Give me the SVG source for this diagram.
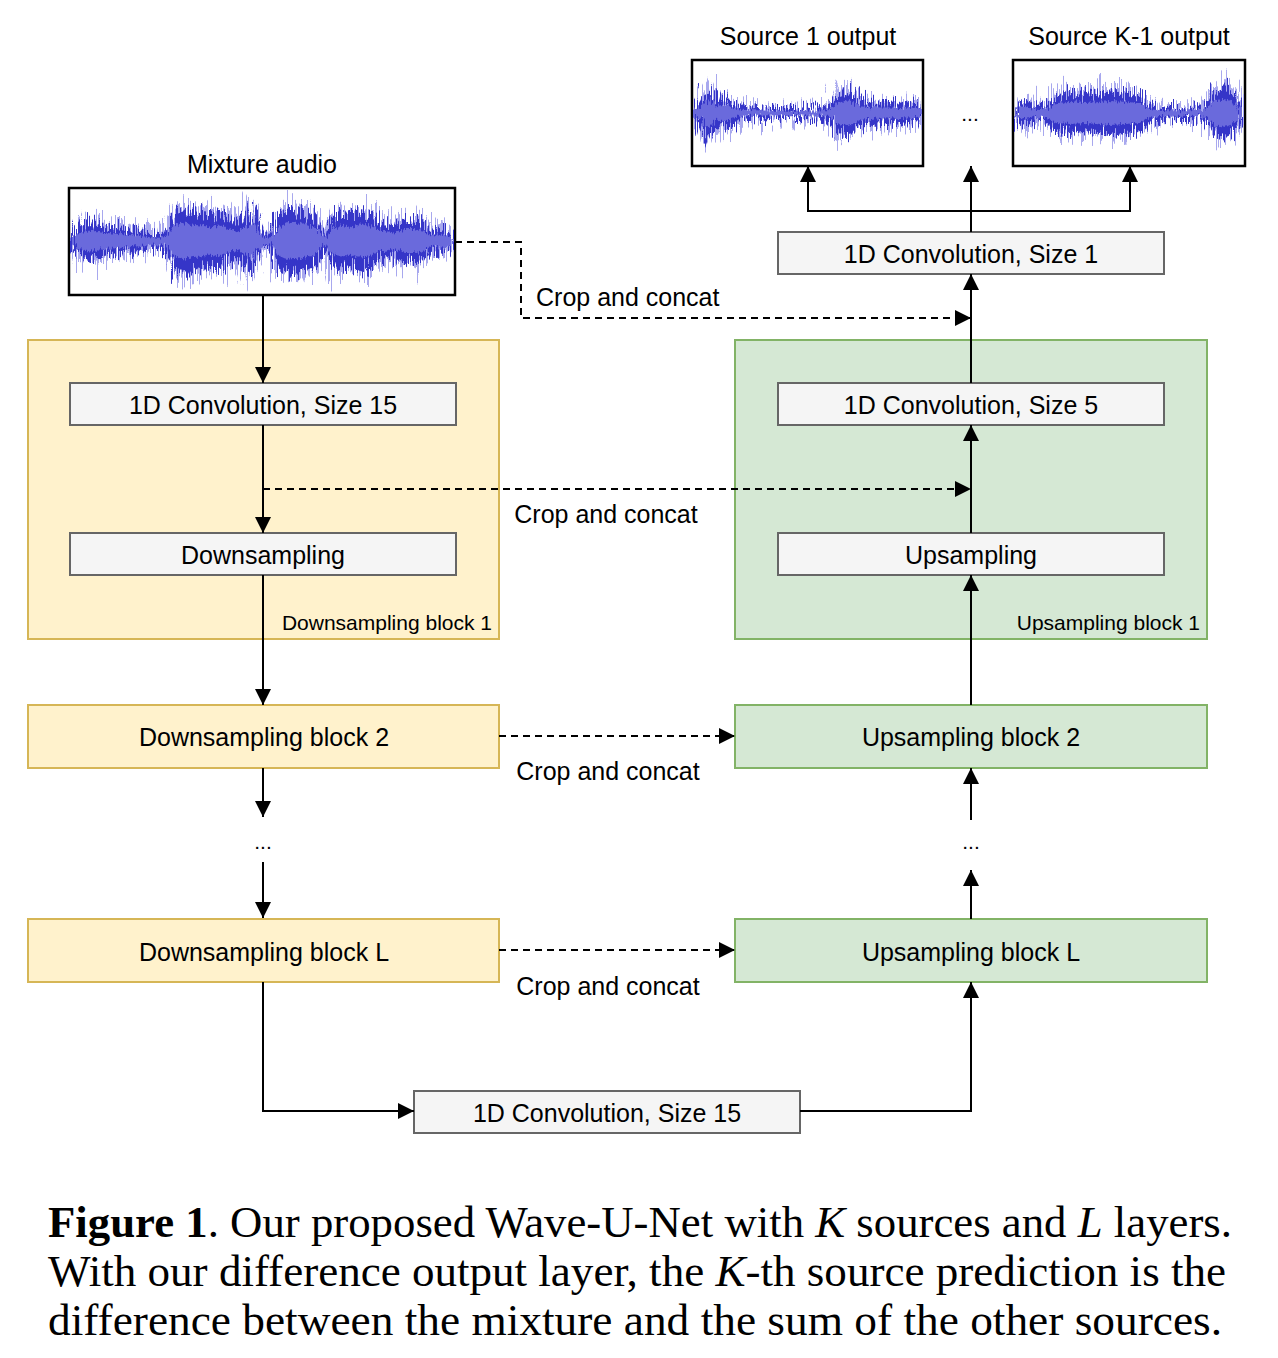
<svg xmlns="http://www.w3.org/2000/svg" xmlns:xlink="http://www.w3.org/1999/xlink" width="1278" height="1358" viewBox="0 0 1278 1358">
<style>
.t{font-family:"Liberation Sans",Arial,sans-serif;font-size:25px;fill:#000}
.s{font-family:"Liberation Sans",Arial,sans-serif;font-size:21px;fill:#000}
.cap{font-family:"Liberation Serif","Times New Roman",serif;font-size:44px;fill:#000}
.gray{fill:#f5f5f5;stroke:#666;stroke-width:2}
.yel{fill:#fff2cc;stroke:#d6b656;stroke-width:2}
.grn{fill:#d5e8d4;stroke:#82b366;stroke-width:2}
.wbox{fill:#fff;stroke:#000;stroke-width:2.5}
.ln{fill:none;stroke:#000;stroke-width:2}
.dsh{fill:none;stroke:#000;stroke-width:2;stroke-dasharray:7 5}
.wh{fill:#a8a8ee}
.wd{fill:#3434c8}
.wl{fill:#6a6adc}
</style>
<defs>
<marker id="ah" viewBox="0 0 16 16" refX="16" refY="8" markerWidth="16" markerHeight="16" markerUnits="userSpaceOnUse" orient="auto">
<path d="M0,0 L16,8 L0,16 z" fill="#000"/>
</marker>
<filter id="jag0" x="-2%" y="-80%" width="104%" height="260%">
<feTurbulence type="fractalNoise" baseFrequency="0.8 0.02" numOctaves="2" seed="2" result="n"/>
<feDisplacementMap in="SourceGraphic" in2="n" scale="48" xChannelSelector="B" yChannelSelector="G"/>
</filter>
<filter id="jag" x="-2%" y="-80%" width="104%" height="260%">
<feTurbulence type="fractalNoise" baseFrequency="0.9 0.03" numOctaves="2" seed="5" result="n"/>
<feDisplacementMap in="SourceGraphic" in2="n" scale="36" xChannelSelector="B" yChannelSelector="G"/>
</filter>
<filter id="jag2" x="-2%" y="-80%" width="104%" height="260%">
<feTurbulence type="fractalNoise" baseFrequency="0.7 0.03" numOctaves="2" seed="9" result="n"/>
<feDisplacementMap in="SourceGraphic" in2="n" scale="16" xChannelSelector="B" yChannelSelector="G"/>
</filter>
<path id="envMix" d="M72,237 L76,231 80,225 90,222 100,225 110,227 125,229 140,232 150,234 160,235 167,231 172,216 180,208 190,211 200,213 210,216 220,213 227,219 235,223 245,219 252,206 256,221 262,233 272,235 277,216 285,209 295,208 305,211 315,216 322,229 326,236 330,219 340,213 350,216 360,211 370,213 378,223 385,223 395,226 405,219 415,219 425,223 430,231 440,229 448,231 453,238 L453,244 448,251 440,253 430,251 425,259 415,263 405,263 395,256 385,259 378,259 370,269 360,271 350,266 340,269 330,263 326,246 322,253 315,266 305,271 295,274 285,273 277,266 272,247 262,249 256,261 252,276 245,263 235,259 227,263 220,269 210,266 200,269 190,271 180,274 172,266 167,251 160,247 150,248 140,250 125,253 110,255 100,257 90,260 80,257 76,251 72,245 z"/>
<path id="envS1" d="M694,107 L700,105 704,95 708,88 712,93 717,101 722,98 728,99 733,105 740,107 755,108 773,109 800,109 828,108 833,103 838,93 845,91 852,93 861,101 870,102 880,103 890,103 900,104 910,103 921,105 L921,121 910,123 900,122 890,123 880,123 870,124 861,125 852,133 845,135 838,133 833,123 828,118 800,117 773,117 755,118 740,119 733,121 728,127 722,128 717,125 712,133 708,141 704,136 700,121 694,119 z"/>
<path id="envSK" d="M1015,105 L1020,101 1028,103 1040,106 1050,103 1056,95 1070,93 1085,95 1100,93 1110,91 1125,93 1140,95 1146,103 1154,107 1170,108 1190,108 1205,107 1212,95 1220,87 1228,89 1236,98 1243,105 L1243,121 1236,128 1228,137 1220,139 1212,131 1205,119 1190,118 1170,118 1154,119 1146,123 1140,131 1125,133 1110,135 1100,133 1085,131 1070,133 1056,131 1050,123 1040,120 1028,123 1020,125 1015,121 z"/>
<clipPath id="cMix"><rect x="70" y="189" width="384" height="105"/></clipPath>
<clipPath id="cS1"><rect x="693" y="61" width="229" height="104"/></clipPath>
<clipPath id="cSK"><rect x="1014" y="61" width="230" height="104"/></clipPath>
</defs>
<rect width="1278" height="1358" fill="#fff"/>

<g id="ds-block-1">
<rect class="yel" x="28" y="340" width="471" height="299"/>
<text class="s" x="492" y="630" text-anchor="end">Downsampling block 1</text>
</g>
<g id="us-block-1">
<rect class="grn" x="735" y="340" width="472" height="299"/>
<text class="s" x="1200" y="630" text-anchor="end">Upsampling block 1</text>
</g>

<g id="mixture-audio">
<text class="t" x="262" y="173" text-anchor="middle">Mixture audio</text>
<rect class="wbox" x="69" y="188" width="386" height="107"/>
<g clip-path="url(#cMix)">
<use xlink:href="#envMix" class="wh" transform="translate(0,241) scale(1,1.15) translate(0,-241)" filter="url(#jag0)"/>
<use xlink:href="#envMix" class="wd" filter="url(#jag)"/>
<use xlink:href="#envMix" class="wl" transform="translate(0,241) scale(1,0.55) translate(0,-241)" filter="url(#jag2)"/>
</g>
</g>
<g id="source-1-output">
<text class="t" x="808" y="45" text-anchor="middle">Source 1 output</text>
<rect class="wbox" x="692" y="60" width="231" height="106"/>
<g clip-path="url(#cS1)">
<use xlink:href="#envS1" class="wh" transform="translate(0,113) scale(1,1.15) translate(0,-113)" filter="url(#jag0)"/>
<use xlink:href="#envS1" class="wd" filter="url(#jag)"/>
<use xlink:href="#envS1" class="wl" transform="translate(0,113) scale(1,0.55) translate(0,-113)" filter="url(#jag2)"/>
</g>
</g>
<g id="source-k1-output">
<text class="t" x="1129" y="45" text-anchor="middle">Source K-1 output</text>
<rect class="wbox" x="1013" y="60" width="232" height="106"/>
<g clip-path="url(#cSK)">
<use xlink:href="#envSK" class="wh" transform="translate(0,113) scale(1,1.15) translate(0,-113)" filter="url(#jag0)"/>
<use xlink:href="#envSK" class="wd" filter="url(#jag)"/>
<use xlink:href="#envSK" class="wl" transform="translate(0,113) scale(1,0.55) translate(0,-113)" filter="url(#jag2)"/>
</g>
</g>
<g id="outputs-ellipsis"><text class="s" x="970" y="121" text-anchor="middle">...</text></g>

<g id="conv-size-1">
<rect class="gray" x="778" y="232" width="386" height="42"/>
<text class="t" x="971" y="263" text-anchor="middle">1D Convolution, Size 1</text>
</g>
<g id="conv-size-15-down">
<rect class="gray" x="70" y="383" width="386" height="42"/>
<text class="t" x="263" y="414" text-anchor="middle">1D Convolution, Size 15</text>
</g>
<g id="downsampling">
<rect class="gray" x="70" y="533" width="386" height="42"/>
<text class="t" x="263" y="564" text-anchor="middle">Downsampling</text>
</g>
<g id="conv-size-5">
<rect class="gray" x="778" y="383" width="386" height="42"/>
<text class="t" x="971" y="414" text-anchor="middle">1D Convolution, Size 5</text>
</g>
<g id="upsampling">
<rect class="gray" x="778" y="533" width="386" height="42"/>
<text class="t" x="971" y="564" text-anchor="middle">Upsampling</text>
</g>
<g id="ds-block-2">
<rect class="yel" x="28" y="705" width="471" height="63"/>
<text class="t" x="264" y="746" text-anchor="middle">Downsampling block 2</text>
</g>
<g id="us-block-2">
<rect class="grn" x="735" y="705" width="472" height="63"/>
<text class="t" x="971" y="746" text-anchor="middle">Upsampling block 2</text>
</g>
<g id="ds-ellipsis"><text class="s" x="263" y="849" text-anchor="middle">...</text></g>
<g id="us-ellipsis"><text class="s" x="971" y="849" text-anchor="middle">...</text></g>
<g id="ds-block-L">
<rect class="yel" x="28" y="919" width="471" height="63"/>
<text class="t" x="264" y="961" text-anchor="middle">Downsampling block L</text>
</g>
<g id="us-block-L">
<rect class="grn" x="735" y="919" width="472" height="63"/>
<text class="t" x="971" y="961" text-anchor="middle">Upsampling block L</text>
</g>
<g id="conv-size-15-bottom">
<rect class="gray" x="414" y="1091" width="386" height="42"/>
<text class="t" x="607" y="1122" text-anchor="middle">1D Convolution, Size 15</text>
</g>

<g id="connectors">
<path class="ln" d="M263,295 V383" marker-end="url(#ah)"/>
<path class="ln" d="M263,425 V533" marker-end="url(#ah)"/>
<path class="ln" d="M263,575 V705" marker-end="url(#ah)"/>
<path class="ln" d="M263,768 V817" marker-end="url(#ah)"/>
<path class="ln" d="M263,862 V918" marker-end="url(#ah)"/>
<path class="ln" d="M263,982 V1111 H414" marker-end="url(#ah)"/>
<path class="ln" d="M800,1111 H971 V982" marker-end="url(#ah)"/>
<path class="ln" d="M971,919 V870" marker-end="url(#ah)"/>
<path class="ln" d="M971,820 V768" marker-end="url(#ah)"/>
<path class="ln" d="M971,705 V575" marker-end="url(#ah)"/>
<path class="ln" d="M971,533 V425" marker-end="url(#ah)"/>
<path class="ln" d="M971,383 V274" marker-end="url(#ah)"/>
<path class="ln" d="M971,232 V166" marker-end="url(#ah)"/>
<path class="ln" d="M971,211 H808 V166" marker-end="url(#ah)"/>
<path class="ln" d="M971,211 H1130 V166" marker-end="url(#ah)"/>
<path class="dsh" d="M455,242 H521 V318 H971" marker-end="url(#ah)"/>
<path class="dsh" d="M263,489 H971" marker-end="url(#ah)"/>
<path class="dsh" d="M499,736 H735" marker-end="url(#ah)"/>
<path class="dsh" d="M499,950 H735" marker-end="url(#ah)"/>
<text class="t" x="536" y="306">Crop and concat</text>
<text class="t" x="606" y="523" text-anchor="middle">Crop and concat</text>
<text class="t" x="608" y="780" text-anchor="middle">Crop and concat</text>
<text class="t" x="608" y="995" text-anchor="middle">Crop and concat</text>
</g>

<g id="caption">
<text class="cap" x="48" y="1237" textLength="1184" lengthAdjust="spacingAndGlyphs"><tspan font-weight="bold">Figure 1</tspan>. Our proposed Wave-U-Net with <tspan font-style="italic">K</tspan> sources and <tspan font-style="italic">L</tspan> layers.</text>
<text class="cap" x="48" y="1286" textLength="1178" lengthAdjust="spacingAndGlyphs">With our difference output layer, the <tspan font-style="italic">K</tspan>-th source prediction is the</text>
<text class="cap" x="48" y="1335" textLength="1174" lengthAdjust="spacingAndGlyphs">difference between the mixture and the sum of the other sources.</text>
</g>
</svg>
